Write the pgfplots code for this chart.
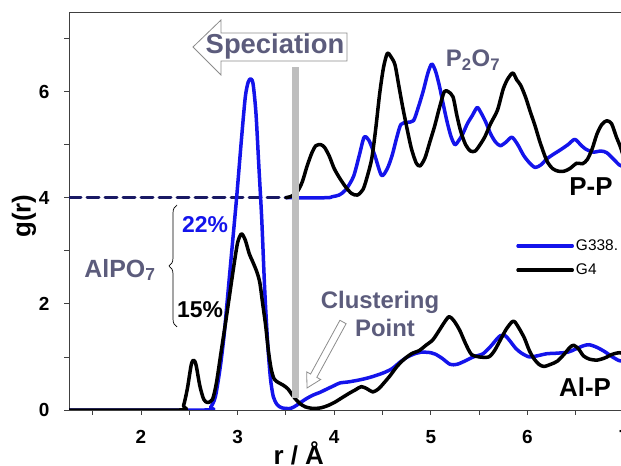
\documentclass[border=0pt]{standalone}
\usepackage{fontspec}
\setmainfont{Liberation Sans}
\usepackage{pgfplots}
\pgfplotsset{compat=1.18}
\usetikzlibrary{decorations.pathreplacing}
\definecolor{gblue}{RGB}{20,20,235}
\definecolor{anno}{RGB}{92,92,124}
\definecolor{navy}{RGB}{25,25,100}
\definecolor{barg}{RGB}{190,190,190}
\begin{document}
\begin{tikzpicture}[x=1bp,y=1bp]
\begin{axis}[
  scale only axis, width=555bp, height=398bp,
  xmin=1.255, xmax=7.0, ymin=0, ymax=7.5,
  xtick={2,3,4,5,6,7}, minor xtick={1.5,2.5,3.5,4.5,5.5,6.5},
  ytick={0,2,4,6}, minor ytick={1,3,5,7},
  xtick pos=left, ytick pos=left,
  tick align=outside, major tick length=5bp, minor tick length=5bp,
  axis line style={draw=black!75, line width=0.8bp},
  tick style={black!75, line width=0.8bp},
  ticklabel style={font=\fontsize{19}{19}\selectfont\bfseries},
  /pgf/number format/assume math mode=true,
  xticklabel style={yshift=-12bp},
  yticklabel style={xshift=-11bp},
  xlabel={r / Å}, ylabel={g(r)},
  label style={font=\fontsize{26}{26}\selectfont\bfseries},
  xlabel style={at={(axis description cs:0.414,-0.138)}, anchor=base},
  ylabel style={at={(axis description cs:-0.081,0.487)}, anchor=center},
  legend style={at={(axis cs:5.885,3.25)}, anchor=north west, draw=none, fill=none,
    inner sep=0pt, row sep=8bp, font=\fontsize{15.5}{15.5}\selectfont,
    cells={anchor=west}},
  legend image code/.code={\path (0bp,0bp) -- (54bp,0bp);\draw[#1] (0bp,0bp) -- (45bp,0bp);},
  every axis plot/.append style={line join=round, line cap=round},
]
% dashed baseline of the P-P curves
\addplot[navy, line width=3bp, dash pattern=on 12bp off 6bp, forget plot]
  coordinates {(1.255,4) (3.5,4)};
% P-P, G338 (offset +4)
\addplot[gblue, line width=3.5bp, smooth, tension=0.45, forget plot] coordinates {
(3.5,4.0) (3.92,4.0) (3.98,4.02) (4.05,4.05) (4.12,4.15) (4.2,4.4) (4.26,4.8)
(4.31,5.14) (4.36,5.08) (4.42,4.8) (4.49,4.42) (4.55,4.55) (4.6,4.8) (4.65,5.15)
(4.69,5.38) (4.75,5.42) (4.82,5.45) (4.87,5.7) (4.92,6.0) (4.97,6.35) (5.01,6.52)
(5.05,6.38) (5.09,6.1) (5.13,5.75) (5.17,5.42) (5.21,5.15) (5.25,5.0) (5.29,5.08)
(5.33,5.2) (5.38,5.4) (5.43,5.55) (5.48,5.70) (5.52,5.6) (5.57,5.42) (5.62,5.2)
(5.67,5.05) (5.72,4.98) (5.78,5.05) (5.84,5.14) (5.9,5.0) (5.96,4.8) (6.02,4.66)
(6.08,4.57) (6.14,4.62) (6.2,4.73) (6.27,4.82) (6.34,4.9) (6.42,5.0) (6.49,5.10)
(6.55,5.0) (6.6,4.92) (6.68,4.86) (6.76,4.88) (6.82,4.85) (6.89,4.73) (6.95,4.62) (7.0,4.58)};
% P-P, G4 (offset +4)
\addplot[black, line width=3.5bp, smooth, tension=0.45, forget plot] coordinates {
(3.5,4.0) (3.56,4.03) (3.62,4.12) (3.67,4.3) (3.72,4.6) (3.77,4.85) (3.81,4.98)
(3.86,5.0) (3.9,4.95) (3.95,4.78) (4.0,4.55) (4.06,4.36) (4.12,4.2) (4.18,4.08)
(4.24,4.05) (4.3,4.16) (4.35,4.45) (4.39,4.75) (4.43,5.3) (4.47,5.95) (4.51,6.45)
(4.55,6.72) (4.59,6.65) (4.63,6.5) (4.67,6.1) (4.71,5.7) (4.76,5.25) (4.8,4.92)
(4.85,4.65) (4.89,4.6) (4.94,4.75) (4.99,5.05) (5.04,5.35) (5.09,5.7) (5.14,6.0)
(5.18,6.0) (5.23,5.9) (5.27,5.55) (5.31,5.25) (5.36,5.0) (5.41,4.88) (5.46,4.88)
(5.51,5.0) (5.56,5.15) (5.62,5.4) (5.69,5.65) (5.75,6.05) (5.8,6.25) (5.85,6.35)
(5.89,6.22) (5.93,6.12) (5.98,5.9) (6.03,5.62) (6.08,5.35) (6.13,5.05) (6.2,4.7)
(6.26,4.55) (6.32,4.5) (6.38,4.5) (6.44,4.55) (6.51,4.65) (6.57,4.64) (6.62,4.72)
(6.67,4.92) (6.72,5.2) (6.77,5.38) (6.82,5.45) (6.87,5.40) (6.92,5.15) (6.96,4.97) (7.0,4.75)};
% Al-P, G338
\addplot[gblue, line width=3.5bp, smooth, tension=0.45] coordinates {
(1.255,0) (2.66,0) (2.72,0.05) (2.77,0.25) (2.82,0.8) (2.86,1.4) (2.89,2.0)
(2.94,3.0) (2.99,4.0) (3.04,5.1) (3.08,5.9) (3.11,6.18) (3.135,6.24) (3.16,6.15)
(3.19,5.6) (3.22,4.6) (3.25,3.6) (3.28,2.3) (3.31,1.3) (3.34,0.6) (3.37,0.25)
(3.41,0.1) (3.46,0.04) (3.55,0.03) (3.62,0.1) (3.7,0.2) (3.78,0.28) (3.85,0.33)
(3.93,0.4) (4.0,0.46) (4.06,0.51) (4.15,0.53) (4.27,0.57) (4.38,0.62) (4.51,0.70)
(4.6,0.78) (4.68,0.9) (4.75,0.99) (4.82,1.05) (4.9,1.09) (5.0,1.08) (5.05,1.05)
(5.12,0.97) (5.2,0.86) (5.27,0.86) (5.35,0.92) (5.44,1.0) (5.54,1.06) (5.62,1.2)
(5.68,1.33) (5.72,1.40) (5.77,1.40) (5.82,1.30) (5.88,1.16) (5.94,1.07) (6.02,1.0)
(6.1,1.02) (6.2,1.06) (6.3,1.07) (6.42,1.09) (6.5,1.15) (6.58,1.21) (6.64,1.23)
(6.72,1.18) (6.8,1.10) (6.88,1.0) (6.95,0.93) (7.0,0.92)};
\addlegendentry{G338.}
% Al-P, G4
\addplot[black, line width=3.5bp, smooth, tension=0.45] coordinates {
(1.255,0) (2.40,0) (2.44,0.08) (2.48,0.4) (2.52,0.85) (2.545,0.94) (2.57,0.85)
(2.61,0.45) (2.65,0.2) (2.69,0.14) (2.74,0.2) (2.78,0.5) (2.83,1.1) (2.88,1.7)
(2.92,2.2) (2.96,2.7) (3.00,3.15) (3.04,3.32) (3.08,3.2) (3.12,2.95) (3.16,2.78)
(3.2,2.6) (3.23,2.4) (3.26,2.0) (3.29,1.6) (3.32,1.1) (3.35,0.75) (3.38,0.58)
(3.42,0.52) (3.47,0.47) (3.52,0.4) (3.58,0.25) (3.64,0.13) (3.7,0.06) (3.78,0.03)
(3.86,0.04) (3.93,0.08) (4.0,0.14) (4.08,0.23) (4.16,0.32) (4.22,0.38) (4.28,0.44)
(4.34,0.40) (4.40,0.34) (4.46,0.40) (4.52,0.52) (4.58,0.65) (4.65,0.82) (4.72,0.95)
(4.8,1.06) (4.88,1.12) (4.95,1.22) (5.02,1.32) (5.08,1.48) (5.14,1.65) (5.19,1.76)
(5.24,1.68) (5.3,1.50) (5.36,1.25) (5.42,1.05) (5.5,1.0) (5.6,1.0) (5.66,1.12)
(5.72,1.32) (5.78,1.52) (5.84,1.66) (5.87,1.66) (5.92,1.52) (5.97,1.35) (6.02,1.12)
(6.07,0.96) (6.12,0.86) (6.17,0.82) (6.24,0.86) (6.31,0.92) (6.38,1.05) (6.44,1.18)
(6.48,1.22) (6.53,1.15) (6.58,1.02) (6.64,0.96) (6.72,0.94) (6.8,0.98) (6.88,1.05)
(6.95,1.08) (7.0,1.06)};
\addlegendentry{G4}
% grey separation line
\addplot[barg, line width=7bp, line cap=butt, forget plot] coordinates {(3.6,0.23) (3.6,6.47)};
\end{axis}
% Speciation arrow
\draw[black!45, line width=0.8bp, fill=white]
  (124,363) -- (152,390) -- (152,377) -- (278,377) -- (278,349) -- (152,349) -- (152,335) -- cycle;
\node[anno, font=\fontsize{27.5}{27.5}\selectfont\bfseries] at (206,364) {Speciation};
\node[anno, font=\fontsize{24}{24}\selectfont\bfseries] at (404,350) {P\textsubscript{2}O\textsubscript{7}};
\node[font=\fontsize{26}{26}\selectfont\bfseries] at (522,223) {P-P};
\node[font=\fontsize{26}{26}\selectfont\bfseries] at (516,23) {Al-P};
% Clustering point
\node[anno, font=\fontsize{24}{24}\selectfont\bfseries] at (311,108) {Clustering};
\node[anno, font=\fontsize{24}{24}\selectfont\bfseries] at (316,82) {Point};
\draw[black!45, line width=0.8bp, fill=white]
  (277.1,86.3) -- (247.8,32.6) -- (251.7,30.5) -- (238,22) -- (237.7,38.1) -- (241.6,36) -- (270.9,89.7) -- cycle;
% AlPO7 brace
\node[anno, font=\fontsize{25}{25}\selectfont\bfseries] at (51,140) {AlPO\textsubscript{7}};
\draw[black, line width=0.7bp, decorate, decoration={brace, amplitude=8bp}] (108,83) -- (108,205);
\node[gblue, font=\fontsize{23}{23}\selectfont\bfseries] at (136,185) {22\%};
\node[font=\fontsize{23}{23}\selectfont\bfseries] at (131,100) {15\%};
\pgfresetboundingbox
\path[use as bounding box] (-69,-56) rectangle (552,410);
\end{tikzpicture}
\end{document}
